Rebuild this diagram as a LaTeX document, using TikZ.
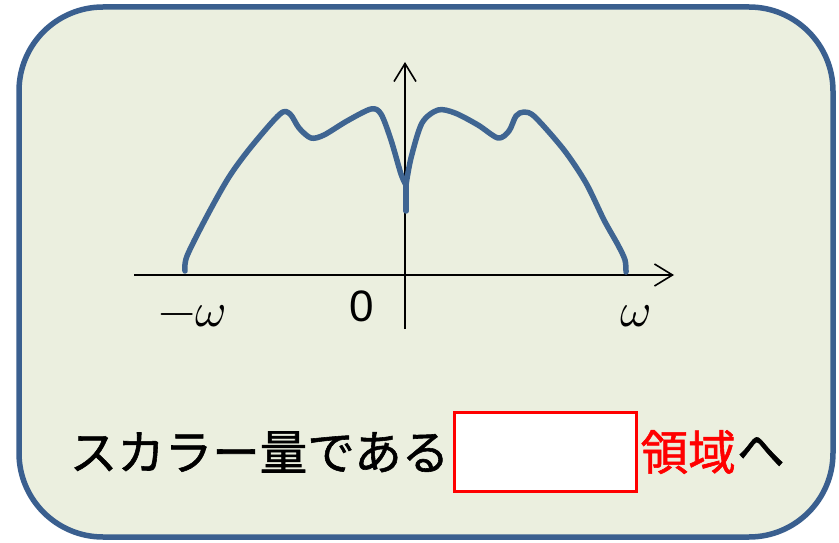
\documentclass[tikz,border=0pt]{standalone}
\usepackage{fontspec}
\usepackage{unicode-math}
\setmathfont{Latin Modern Math}
\newfontfamily\jpfont[FakeBold=1.2]{Noto Sans CJK JP}
\newfontfamily\numfont{Liberation Sans}
\usetikzlibrary{arrows.meta,positioning}
\definecolor{panelfill}{HTML}{EBEFDF}
\definecolor{panelline}{HTML}{3A5F8F}
\definecolor{curveblue}{HTML}{3F6592}
\tikzset{
  axis/.style={line width=1.6pt, -{Straight Barb[length=18pt,width=22pt,line width=1.6pt]}},
  spectrum/.style={curveblue, line width=5.5pt, line cap=round, line join=round},
  jptext/.style={font=\jpfont\fontsize{47.5}{52}\selectfont, inner sep=0pt},
  blankbox/.style={draw=red, line width=3pt, fill=white, minimum width=182pt, minimum height=79pt, inner sep=0pt}
}
\begin{document}
\begin{tikzpicture}[x=1pt, y=-1pt]
\useasboundingbox (0,0) rectangle (839,543);
% panel
\draw[panelline, fill=panelfill, line width=5.5pt, rounded corners=84pt] (19,7) rectangle (833,537);
% axes
\coordinate (xs) at (134,275);
\coordinate (xe) at (674,275);
\coordinate (ys) at (405,329);
\coordinate (ye) at (405,62);
\draw[axis] (xs) -- (xe);
\draw[axis] (ys) -- (ye);
% spectrum
\coordinate (dip) at (406,185);
\coordinate (stem) at (406,211);
\draw[spectrum] plot[smooth] coordinates {(185,271) (187,256) (207,216) (229,177) (251,147) (280,114) (290,114) (299,128) (311,138) (324,135) (347,121) (371,109) (381,114) (391,140) (401,174) (dip)};
\draw[spectrum] plot[smooth] coordinates {(dip) (411,158) (422,123) (438,110) (455,113) (478,125) (498,138) (509,131) (516,116) (524,112) (535,117) (564,150) (586,183) (604,220) (618,245) (625,260) (626,272)};
\draw[spectrum] (dip) -- (stem);
% labels
\node (mw) at (192,316) {\fontsize{48}{52}\selectfont$-\omega$};
\node (zero) at (362,306) {\numfont\fontsize{44}{48}\selectfont 0};
\node (pw) at (636,316) {\fontsize{48}{52}\selectfont$\omega$};
% caption
\node[blankbox] (blank) at (545,452) {};
\node[jptext, anchor=east] (pre) at ([xshift=-3pt]blank.west) {スカラー量である};
\node[jptext, anchor=west, text=red] (dom) at ([xshift=3pt]blank.east) {領域};
\node[jptext, right=1pt of dom] (to) {へ};
\end{tikzpicture}
\end{document}
